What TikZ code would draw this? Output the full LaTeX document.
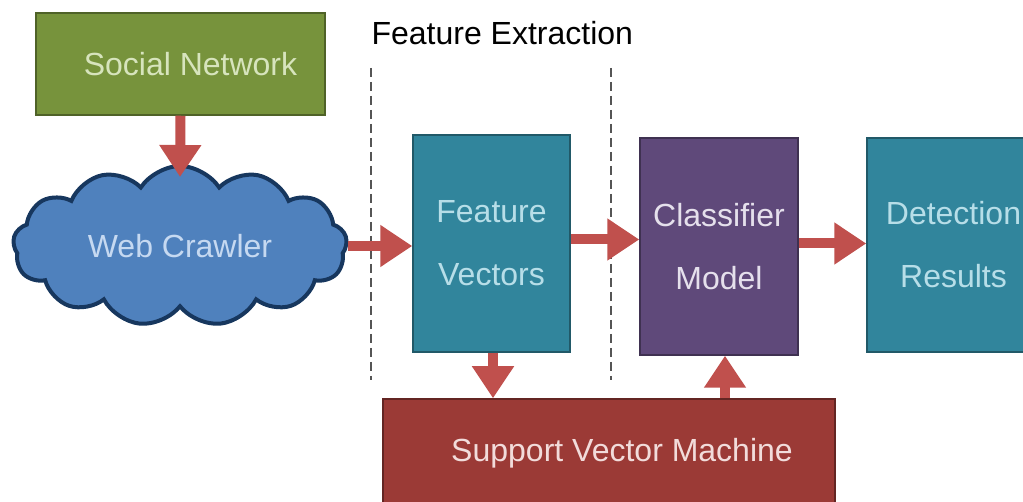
\documentclass[tikz,border=0pt]{standalone}
\usepackage{fontspec}
\setmainfont{Liberation Sans}
\usetikzlibrary{arrows.meta,shapes.symbols}
\definecolor{snfill}{HTML}{77933C}
\definecolor{snline}{HTML}{4F6228}
\definecolor{sntext}{HTML}{D7E4BD}
\definecolor{wcfill}{HTML}{4F81BD}
\definecolor{wcline}{HTML}{17375E}
\definecolor{wctext}{HTML}{C6D9F1}
\definecolor{tealfill}{HTML}{31859C}
\definecolor{tealline}{HTML}{215968}
\definecolor{tealtext}{HTML}{B7DEE8}
\definecolor{purfill}{HTML}{5F497A}
\definecolor{purline}{HTML}{3F3151}
\definecolor{purtext}{HTML}{E5E0EC}
\definecolor{svmfill}{HTML}{9B3A36}
\definecolor{svmline}{HTML}{632523}
\definecolor{svmtext}{HTML}{F2DCDB}
\definecolor{arrowred}{HTML}{C0504D}
\definecolor{dashgray}{HTML}{555555}
\tikzset{
  lbl/.style={font=\fontsize{32}{63}\selectfont, align=center},
  box/.style={lbl, rectangle, line width=1.5pt, inner sep=0pt},
  arr/.style={draw=arrowred, line width=10pt, -{Triangle[width=40pt,length=32pt]}},
  dashline/.style={draw=dashgray, line width=2pt, dash pattern=on 9pt off 5pt},
}
\begin{document}
\begin{tikzpicture}[x=1pt,y=-1pt]
\clip (0,0) rectangle (1023,502);
\fill[white] (0,0) rectangle (1023,502);
% dashed separators
\coordinate (d1t) at (371,68); \coordinate (d1b) at (371,380);
\coordinate (d2t) at (611,68); \coordinate (d2b) at (611,380);
\draw[dashline] (d1t) -- (d1b);
\draw[dashline] (d2t) -- (d2b);
\node[lbl, anchor=west, text=black] (fe) at (368,33) {Feature Extraction};
% boxes
\node[box, fill=snfill, draw=snline, text=sntext, minimum width=289pt, minimum height=102pt] (sn) at (180.5,64) {\hspace*{20pt}Social Network};
\node[lbl, cloud, cloud puffs=13, cloud puff arc=115, aspect=2.1, fill=wcfill, draw=wcline, line width=4pt, text=wctext, minimum width=334pt, minimum height=160pt, inner sep=0pt] (wc) at (180,246) {Web Crawler};
\node[box, fill=tealfill, draw=tealline, text=tealtext, minimum width=157pt, minimum height=217pt] (fv) at (491.5,243.5) {Feature\\Vectors};
\node[box, fill=purfill, draw=purline, text=purtext, minimum width=158pt, minimum height=217pt] (cm) at (719,246.5) {Classifier\\Model};
\node[box, fill=tealfill, draw=tealline, text=tealtext, minimum width=163pt, minimum height=214pt] (dr) at (948.5,245) {\hspace*{10pt}Detection\\\hspace*{10pt}Results};
\node[box, fill=svmfill, draw=svmline, text=svmtext, minimum width=452pt, minimum height=108pt] (svm) at (609,453) {\hspace*{26pt}Support Vector Machine};
% connectors
\draw[arr] (sn.south) -- ([yshift=-13pt]wc.north);
\draw[arr] (wc.east) -- (wc.east -| fv.west);
\draw[arr] ([yshift=4pt]fv.east) -- ([yshift=4pt]fv.east -| cm.west);
\draw[arr] ([yshift=3pt]cm.east) -- ([yshift=3pt]cm.east -| dr.west);
\draw[arr] ([xshift=1.5pt]fv.south) -- ([xshift=1.5pt]fv.south |- svm.north);
\draw[arr] ([xshift=6pt]svm.north -| cm.south) -- ([xshift=6pt]cm.south);
\end{tikzpicture}
\end{document}
